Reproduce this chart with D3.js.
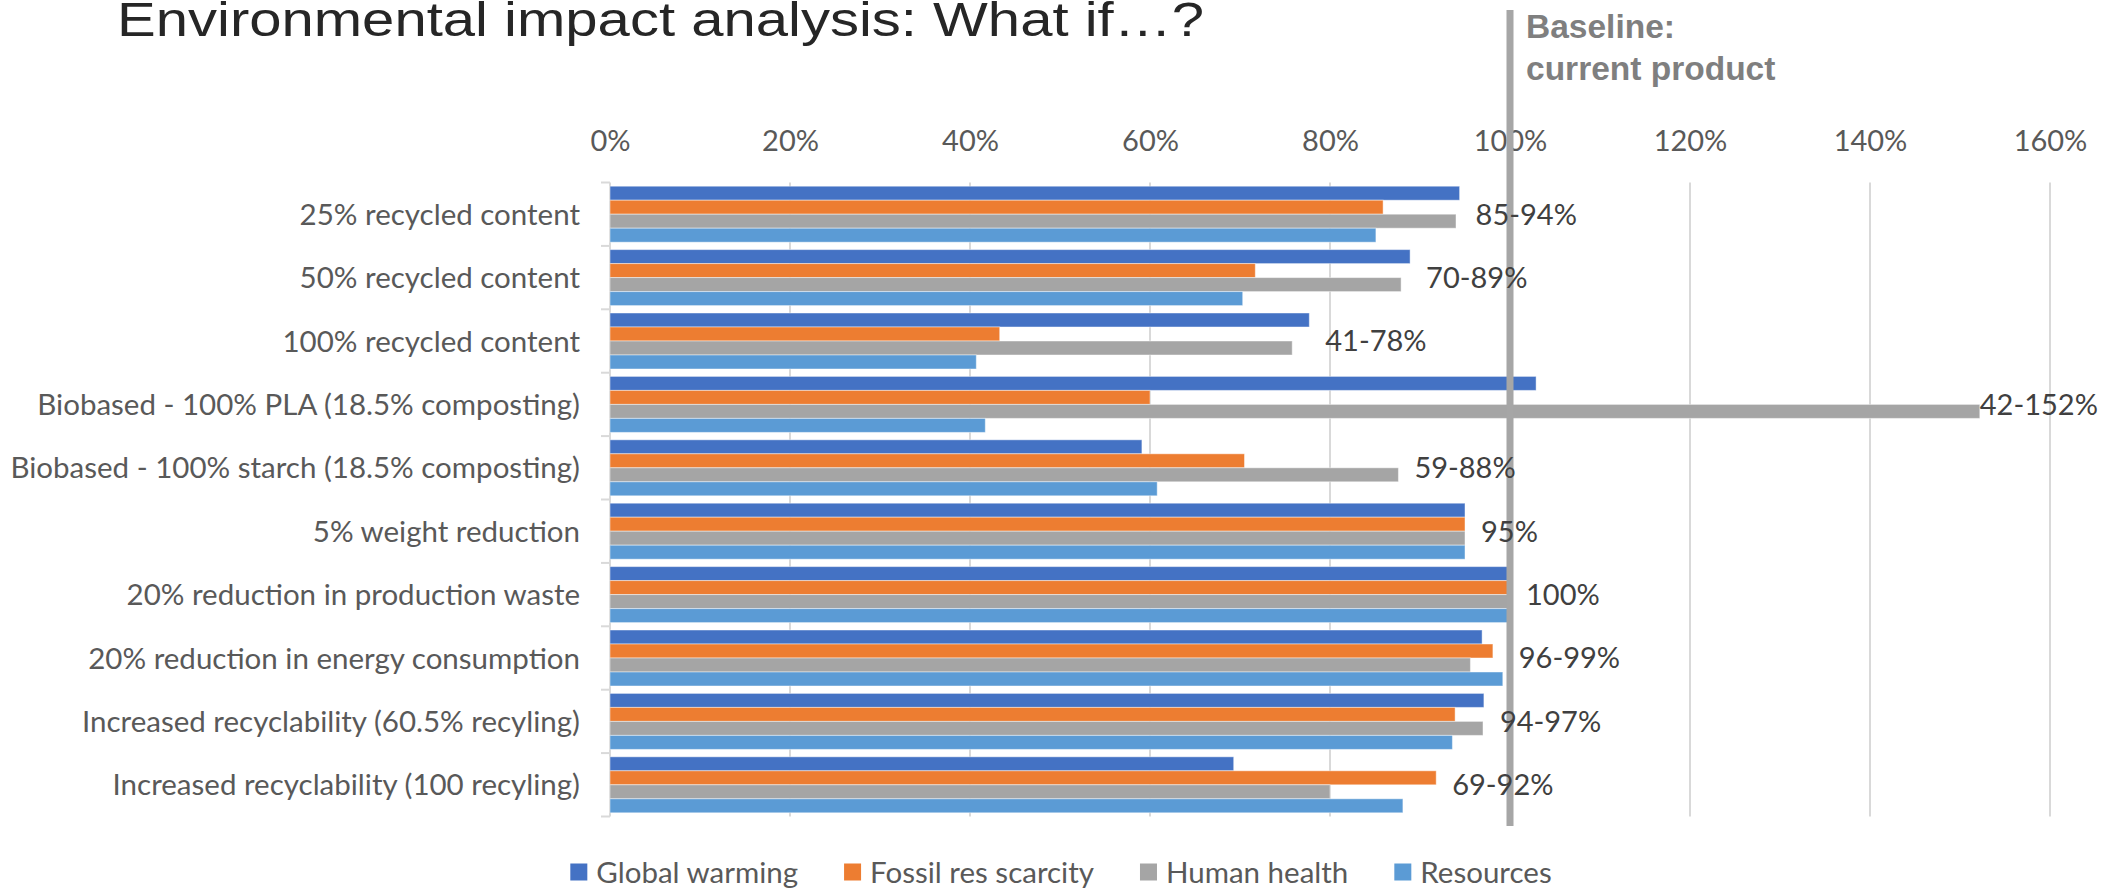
<!DOCTYPE html>
<html>
<head>
<meta charset="utf-8">
<script src="https://cdn.jsdelivr.net/npm/d3@7/dist/d3.min.js"></script>
<style>
  html, body { margin: 0; padding: 0; background: #ffffff; }
  svg { display: block; }
  .lbl { font-family: Lato, "Open Sans", sans-serif; }
</style>
</head>
<body>
<svg id="chart" width="2116" height="889"></svg>
<script>
// Scenario categories (top to bottom)
const categories = [
  "25% recycled content",
  "50% recycled content",
  "100% recycled content",
  "Biobased - 100% PLA (18.5% composting)",
  "Biobased - 100% starch (18.5% composting)",
  "5% weight reduction",
  "20% reduction in production waste",
  "20% reduction in energy consumption",
  "Increased recyclability (60.5% recyling)",
  "Increased recyclability (100 recyling)"
];

// Impact relative to the current product, in percent
const seriesNames = ["Global warming", "Fossil res scarcity", "Human health", "Resources"];
const globalWarming   = [94.4, 88.9, 77.7, 102.9, 59.1, 95, 100, 96.9, 97.1, 69.3];
const fossilScarcity  = [85.9, 71.7, 43.3,  60.0, 70.5, 95, 100, 98.1, 93.9, 91.8];
const humanHealth     = [94.0, 87.9, 75.8, 152.2, 87.6, 95, 100, 95.6, 97.0, 80.0];
const resources       = [85.1, 70.3, 40.7,  41.7, 60.8, 95, 100, 99.2, 93.6, 88.1];

// Range annotation shown next to each scenario
const rangeLabels = ["85-94%", "70-89%", "41-78%", "42-152%", "59-88%", "95%", "100%", "96-99%", "94-97%", "69-92%"];

// Value axis ticks
const xTicks = [0, 20, 40, 60, 80, 100, 120, 140, 160];

// Reference level
const baselineValue = 100;
const baselineText = ["Baseline:", "current product"];

const titleText = "Environmental impact analysis: What if\u2026?";

const seriesColors = ["#4472C4", "#ED7D31", "#A5A5A5", "#5B9BD5"];
const seriesValues = [globalWarming, fossilScarcity, humanHealth, resources];

const rows = categories.map((c, i) => ({
  category: c,
  values: seriesValues.map((s, k) => ({ key: seriesNames[k], value: s[i], k })),
  label: rangeLabels[i]
}));

const svg = d3.select("#chart");
const W = 2116;

const plot = { left: 610, right: 2050, top: 182.5, bottom: 816.5 };

const x = d3.scaleLinear().domain([0, 160]).range([plot.left, plot.right]);
const y = d3.scaleBand().domain(categories).range([plot.top, plot.bottom])
  .paddingInner(0.117).paddingOuter(0.0585);
const sub = d3.scaleBand().domain(d3.range(seriesNames.length)).range([0, y.bandwidth()]);
const color = d3.scaleOrdinal().domain(seriesNames).range(seriesColors);

// Title
svg.append("text")
  .attr("x", 117).attr("y", 36)
  .attr("font-family", "'Liberation Sans', Arial, sans-serif")
  .attr("font-size", 49)
  .attr("fill", "#262626")
  .attr("textLength", 1087)
  .attr("lengthAdjust", "spacingAndGlyphs")
  .text(titleText);

// Vertical gridlines
svg.append("g")
  .selectAll("line")
  .data(xTicks.filter(d => d > 0))
  .join("line")
  .attr("x1", d => x(d)).attr("x2", d => x(d))
  .attr("y1", plot.top).attr("y2", plot.bottom)
  .attr("stroke", "#d9d9d9").attr("stroke-width", 2);

// Tick labels along the top
const xAxis = svg.append("g")
  .attr("transform", "translate(0,151)")
  .call(d3.axisTop(x).tickValues(xTicks).tickFormat(d => d + "%").tickSize(0).tickPadding(0));
xAxis.select(".domain").remove();
xAxis.selectAll("text")
  .attr("class", "lbl")
  .attr("font-family", "Lato, sans-serif")
  .attr("font-size", 29)
  .attr("fill", "#595959");

// Category axis line with tick marks between groups
svg.append("line")
  .attr("x1", x(0)).attr("x2", x(0))
  .attr("y1", plot.top).attr("y2", plot.bottom)
  .attr("stroke", "#d9d9d9").attr("stroke-width", 2);
svg.append("g")
  .selectAll("line")
  .data(d3.range(categories.length + 1))
  .join("line")
  .attr("x1", x(0) - 9).attr("x2", x(0))
  .attr("y1", i => plot.top + i * y.step())
  .attr("y2", i => plot.top + i * y.step())
  .attr("stroke", "#d9d9d9").attr("stroke-width", 2);

// Category labels
svg.append("g")
  .selectAll("text")
  .data(categories)
  .join("text")
  .attr("class", "lbl")
  .attr("x", 580)
  .attr("y", d => y(d) + y.bandwidth() / 2)
  .attr("dy", "0.36em")
  .attr("text-anchor", "end")
  .attr("font-size", 29.5)
  .attr("fill", "#595959")
  .text(d => d);

// Bars
const groups = svg.append("g")
  .selectAll("g")
  .data(rows)
  .join("g")
  .attr("transform", d => `translate(0,${y(d.category)})`);

groups.selectAll("rect")
  .data(d => d.values)
  .join("rect")
  .attr("x", x(0))
  .attr("y", d => sub(d.k))
  .attr("width", d => x(d.value) - x(0))
  .attr("height", sub.bandwidth())
  .attr("fill", d => color(d.key))
  .attr("stroke", "#ffffff")
  .attr("stroke-opacity", 0.45)
  .attr("stroke-width", 1);

// Baseline marker
svg.append("line")
  .attr("x1", x(baselineValue)).attr("x2", x(baselineValue))
  .attr("y1", 10).attr("y2", 826)
  .attr("stroke", "#a6a6a6").attr("stroke-width", 7);

svg.append("g")
  .selectAll("text")
  .data(baselineText)
  .join("text")
  .attr("x", x(baselineValue) + 16)
  .attr("y", (d, i) => 38 + i * 42)
  .attr("font-family", "'Liberation Sans', Arial, sans-serif")
  .attr("font-weight", "bold")
  .attr("font-size", 33.5)
  .attr("fill", "#7f7f7f")
  .text(d => d);

// Range labels next to each group; kept inside the canvas when the bar is long
const rangeText = svg.append("g")
  .selectAll("text")
  .data(rows)
  .join("text")
  .attr("class", "lbl")
  .attr("y", d => y(d.category) + y.bandwidth() / 2)
  .attr("dy", "0.36em")
  .attr("font-size", 29)
  .attr("fill", "#404040")
  .text(d => d.label);
rangeText.attr("x", function (d) {
  const end = x(d3.max(d.values, v => v.value));
  const w = this.getComputedTextLength();
  return Math.min(end + 16, Math.max(end, W - 22 - w));
});

// Legend
const legend = svg.append("g");
const items = legend.selectAll("g")
  .data(seriesNames)
  .join("g");
items.append("rect")
  .attr("width", 17).attr("height", 17)
  .attr("y", -8.5)
  .attr("fill", d => color(d));
items.append("text")
  .attr("class", "lbl")
  .attr("x", 26)
  .attr("dy", "0.36em")
  .attr("font-size", 29.5)
  .attr("fill", "#595959")
  .text(d => d);

const gap = 46;
const widths = items.nodes().map(n => n.getBBox().width);
const total = d3.sum(widths) + gap * (widths.length - 1);
let cursor = 1061 - total / 2;
items.attr("transform", (d, i) => {
  const t = `translate(${cursor},872)`;
  cursor += widths[i] + gap;
  return t;
});
</script>
</body>
</html>
